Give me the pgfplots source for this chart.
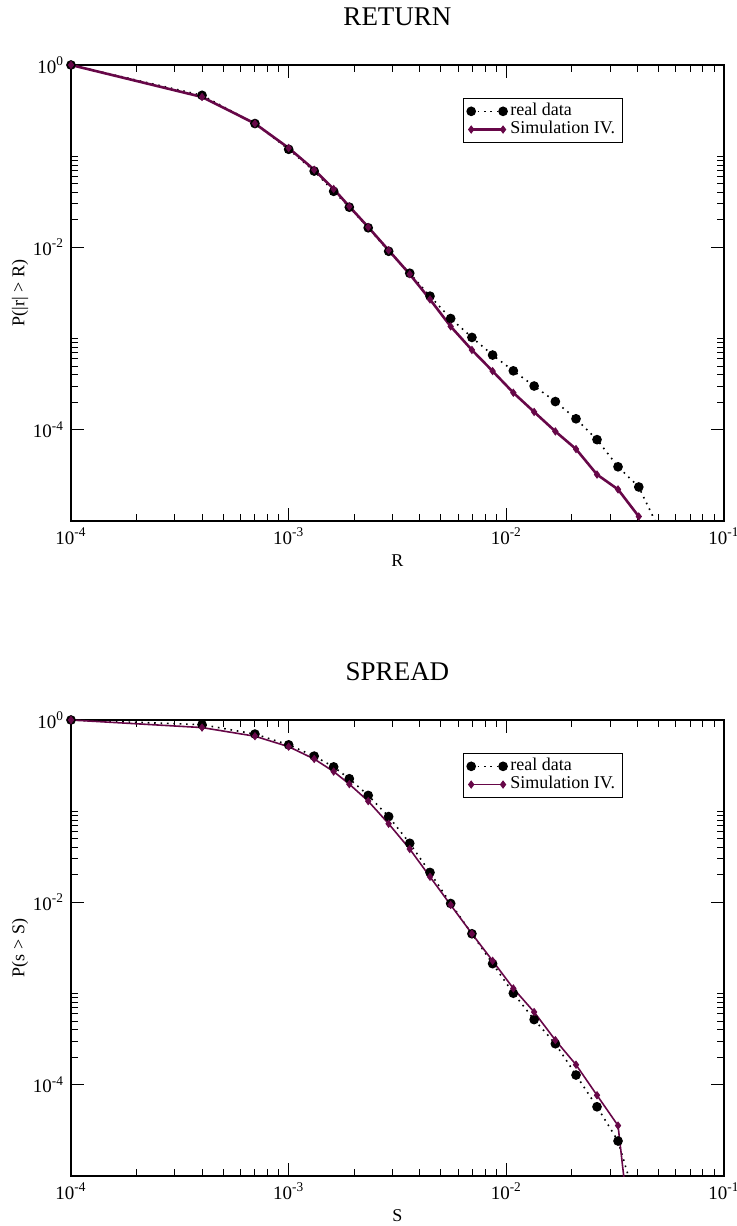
\documentclass[border=0pt]{standalone}
\usepackage{fontspec}
\setmainfont{Liberation Serif}
\usepackage{pgfplots}
\pgfplotsset{compat=1.18}
\definecolor{maroon}{RGB}{103,7,72}

\tikzset{
  realstyle/.style={black, dash pattern=on 0.8pt off 2.4pt, line width=0.8pt, mark=*, mark size=2pt, mark options={solid, fill=black}},
  simstyle/.style={maroon, line width=#1, mark=diamond*, mark size=1.8pt, mark options={solid, fill=maroon, line width=0.4pt}},
}
\pgfplotsset{legend image code/.code={\draw[mark repeat=1,#1] plot coordinates {(0cm,0cm) (0.56cm,0cm)};}}

\begin{document}
\begin{tikzpicture}
\useasboundingbox (0,0) rectangle (368.5pt,613pt);

\begin{axis}[at={(35.5pt,352.5pt)}, anchor=south west,
  xmode=log, ymode=log, log basis x=10, log basis y=10,
  scale only axis, width=326.5pt, height=228pt,
  xmin=1e-4, xmax=1e-1, ymin=1e-5, ymax=1,
  xtick={1e-4,1e-3,1e-2,1e-1},
  ytick={1e-4,1e-2,1},
  minor xtick={2e-4,3e-4,4e-4,5e-4,6e-4,7e-4,8e-4,9e-4,2e-3,3e-3,4e-3,5e-3,6e-3,7e-3,8e-3,9e-3,2e-2,3e-2,4e-2,5e-2,6e-2,7e-2,8e-2,9e-2},
  minor ytick={2e-4,3e-4,4e-4,5e-4,6e-4,7e-4,8e-4,9e-4,1e-3,2e-2,3e-2,4e-2,5e-2,6e-2,7e-2,8e-2,9e-2,1e-1},
  tick align=inside, major tick length=6.5pt, minor tick length=3.3pt,
  axis line style={line width=0.75pt},
  every tick/.style={black, line width=0.5pt},
  xticklabel={10\textsuperscript{\pgfmathparse{int(round(\tick))}\pgfmathresult}},
  yticklabel={10\textsuperscript{\pgfmathparse{int(round(\tick))}\pgfmathresult}},
  ticklabel style={font=\fontsize{9.5}{10}\selectfont},
  title style={at={(axis description cs:0.5,1)}, anchor=center, yshift=18pt, font=\fontsize{13.5}{15}\selectfont},
  xlabel style={at={(axis description cs:0.5,0)}, anchor=center, yshift=-20pt, font=\fontsize{9}{10}\selectfont},
  ylabel style={at={(axis description cs:0,0.5)}, anchor=center, yshift=25.5pt, font=\fontsize{9}{10}\selectfont},
  legend style={at={(axis description cs:0.6,0.928)}, anchor=north west, draw=black,
    font=\fontsize{9}{10}\selectfont, inner sep=2pt, row sep=0pt,
    nodes={inner xsep=1.7pt, inner ysep=0.5pt, text height=6.2pt, text depth=1.9pt}},
  legend cell align=left,
  title={RETURN}, xlabel={R}, ylabel={P(|r| > R)}]
\addplot[realstyle] table {
x y
1e-4 1
4.0e-4 0.465
7.0e-4 0.228
1.0e-3 0.119
1.31e-3 0.0687
1.61e-3 0.0412
1.90e-3 0.0276
2.32e-3 0.0164
2.88e-3 0.00907
3.60e-3 0.00521
4.46e-3 0.00292
5.55e-3 0.00166
6.95e-3 0.00103
8.65e-3 6.6e-4
1.077e-2 4.43e-4
1.342e-2 3.02e-4
1.68e-2 2.04e-4
2.09e-2 1.32e-4
2.61e-2 7.8e-5
3.26e-2 3.93e-5
4.06e-2 2.36e-5
5.05e-2 8e-6
};
\addlegendentry{real data}
\addplot[simstyle=1.3pt] table {
x y
1e-4 1
4.0e-4 0.446
7.0e-4 0.228
1.0e-3 0.123
1.31e-3 0.0710
1.61e-3 0.0437
1.90e-3 0.0281
2.32e-3 0.0167
2.88e-3 0.00930
3.60e-3 0.00508
4.46e-3 0.00269
5.55e-3 0.00136
6.95e-3 7.5e-4
8.65e-3 4.40e-4
1.077e-2 2.55e-4
1.342e-2 1.57e-4
1.68e-2 9.6e-5
2.09e-2 6.15e-5
2.61e-2 3.23e-5
3.26e-2 2.22e-5
4.06e-2 1.12e-5
};
\addlegendentry{Simulation IV.}
\end{axis}

\begin{axis}[at={(35.5pt,25pt)}, anchor=south west,
  xmode=log, ymode=log, log basis x=10, log basis y=10,
  scale only axis, width=326.5pt, height=228pt,
  xmin=1e-4, xmax=1e-1, ymin=1e-5, ymax=1,
  xtick={1e-4,1e-3,1e-2,1e-1},
  ytick={1e-4,1e-2,1},
  minor xtick={2e-4,3e-4,4e-4,5e-4,6e-4,7e-4,8e-4,9e-4,2e-3,3e-3,4e-3,5e-3,6e-3,7e-3,8e-3,9e-3,2e-2,3e-2,4e-2,5e-2,6e-2,7e-2,8e-2,9e-2},
  minor ytick={2e-4,3e-4,4e-4,5e-4,6e-4,7e-4,8e-4,9e-4,1e-3,2e-2,3e-2,4e-2,5e-2,6e-2,7e-2,8e-2,9e-2,1e-1},
  tick align=inside, major tick length=6.5pt, minor tick length=3.3pt,
  axis line style={line width=0.75pt},
  every tick/.style={black, line width=0.5pt},
  xticklabel={10\textsuperscript{\pgfmathparse{int(round(\tick))}\pgfmathresult}},
  yticklabel={10\textsuperscript{\pgfmathparse{int(round(\tick))}\pgfmathresult}},
  ticklabel style={font=\fontsize{9.5}{10}\selectfont},
  title style={at={(axis description cs:0.5,1)}, anchor=center, yshift=18pt, font=\fontsize{13.5}{15}\selectfont},
  xlabel style={at={(axis description cs:0.5,0)}, anchor=center, yshift=-20pt, font=\fontsize{9}{10}\selectfont},
  ylabel style={at={(axis description cs:0,0.5)}, anchor=center, yshift=25.5pt, font=\fontsize{9}{10}\selectfont},
  legend style={at={(axis description cs:0.6,0.928)}, anchor=north west, draw=black,
    font=\fontsize{9}{10}\selectfont, inner sep=2pt, row sep=0pt,
    nodes={inner xsep=1.7pt, inner ysep=0.5pt, text height=6.2pt, text depth=1.9pt}},
  legend cell align=left,
  title={SPREAD}, xlabel={S}, ylabel={P(s > S)}]
\addplot[realstyle] table {
x y
1e-4 1
4.0e-4 0.889
7.0e-4 0.701
1.0e-3 0.534
1.31e-3 0.402
1.61e-3 0.306
1.90e-3 0.227
2.32e-3 0.149
2.88e-3 0.0873
3.60e-3 0.0445
4.46e-3 0.0213
5.55e-3 0.00973
6.95e-3 0.00453
8.65e-3 0.00213
1.077e-2 1.01e-3
1.342e-2 5.19e-4
1.68e-2 2.82e-4
2.09e-2 1.28e-4
2.61e-2 5.74e-5
3.26e-2 2.42e-5
4.06e-2 4.1e-6
};
\addlegendentry{real data}
\addplot[simstyle=0.8pt] table {
x y
1e-4 1
4.0e-4 0.826
7.0e-4 0.664
1.0e-3 0.510
1.31e-3 0.374
1.61e-3 0.272
1.90e-3 0.198
2.32e-3 0.129
2.88e-3 0.0728
3.60e-3 0.0385
4.46e-3 0.0191
5.55e-3 0.00938
6.95e-3 0.00453
8.65e-3 0.00229
1.077e-2 1.14e-3
1.342e-2 6.28e-4
1.68e-2 3.09e-4
2.09e-2 1.66e-4
2.61e-2 7.68e-5
3.26e-2 3.57e-5
4.06e-2 3.4e-7
};
\addlegendentry{Simulation IV.}
\end{axis}
\end{tikzpicture}
\end{document}
